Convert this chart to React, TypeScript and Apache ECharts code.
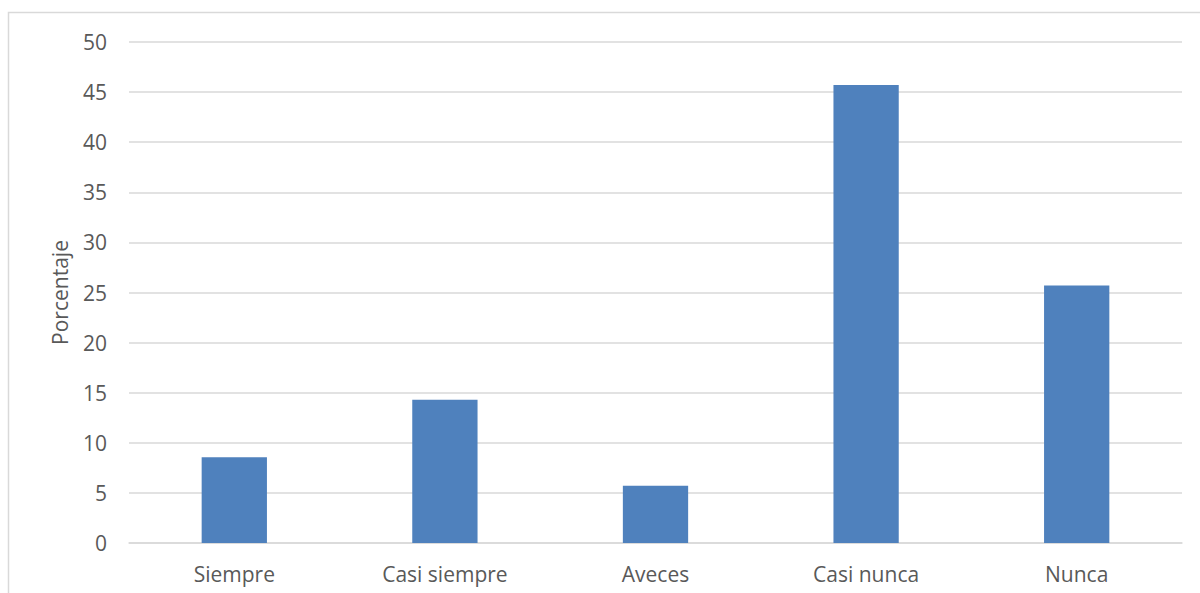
import React, { useEffect, useRef } from "react";
import * as echarts from "echarts";

// Response categories and their share of answers (%)
const categories: string[] = ["Siempre", "Casi siempre", "Aveces", "Casi nunca", "Nunca"];
const percentages: number[] = [8.57, 14.29, 5.71, 45.71, 25.71];
const yAxisTitle = "Porcentaje";

const FONT = "'Open Sans', sans-serif";
const TEXT_COLOR = "#595959";

export default function App() {
  const ref = useRef<HTMLDivElement>(null);

  useEffect(() => {
    if (!ref.current) return;
    const chart = echarts.init(ref.current, null, { renderer: "svg" });
    chart.setOption({
      animation: false,
      backgroundColor: "#ffffff",
      textStyle: { fontFamily: FONT },
      graphic: [
        {
          type: "rect",
          shape: { x: 8.5, y: 12.5, width: 1300, height: 700 },
          style: { fill: "none", stroke: "#d9d9d9", lineWidth: 1.5 },
          silent: true,
        },
      ],
      grid: { left: 129, right: 18, top: 42, bottom: 50, containLabel: false },
      xAxis: {
        type: "category",
        data: categories,
        axisLine: { show: true, lineStyle: { color: "#d9d9d9", width: 1.5 } },
        axisTick: { show: false },
        axisLabel: { color: TEXT_COLOR, fontSize: 21, fontFamily: FONT, margin: 20 },
      },
      yAxis: {
        type: "value",
        min: 0,
        max: 50,
        interval: 5,
        name: yAxisTitle,
        nameLocation: "middle",
        nameGap: 59,
        nameTextStyle: { color: TEXT_COLOR, fontSize: 21, fontFamily: FONT },
        axisLine: { show: false },
        axisTick: { show: false },
        axisLabel: { color: TEXT_COLOR, fontSize: 21, fontFamily: FONT, margin: 22 },
        splitLine: { lineStyle: { color: "#d9d9d9", width: 1.5 } },
      },
      series: [
        {
          type: "bar",
          data: percentages,
          barWidth: "31%",
          itemStyle: { color: "#4f81bd" },
        },
      ],
    });
    return () => chart.dispose();
  }, []);

  return (
    <div
      ref={ref}
      style={{ position: "fixed", left: 0, top: 0, width: 1200, height: 593 }}
    />
  );
}
